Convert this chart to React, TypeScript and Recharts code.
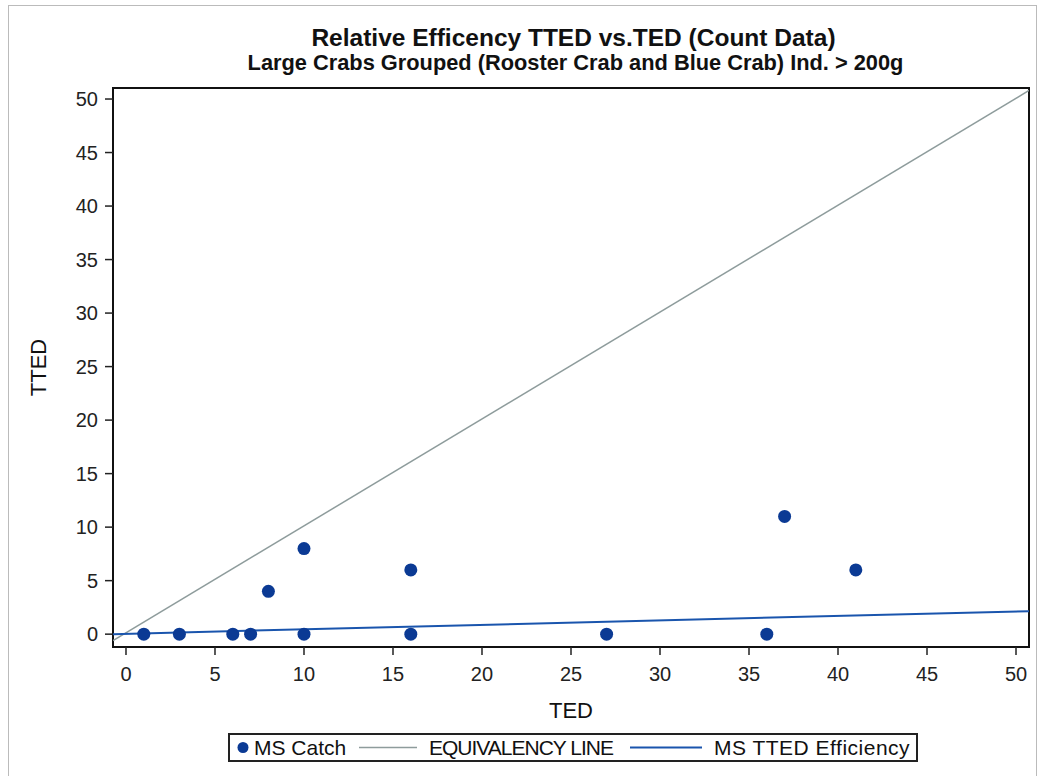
import React from "react";
import { ScatterChart, Scatter, XAxis, YAxis, ReferenceArea } from "recharts";

// MS catch observations (TED count vs TTED count)
const tedCounts = [1, 3, 6, 7, 8, 10, 10, 16, 16, 27, 36, 37, 41];
const ttedCounts = [0, 0, 0, 0, 4, 8, 0, 6, 0, 0, 0, 11, 6];

// line end points
const equivX = [-0.73, 50.73];
const equivY = [-0.6, 50.8];
const effX = [-0.73, 50.73];
const effY = [0, 2.15];

const tickValues = [0, 5, 10, 15, 20, 25, 30, 35, 40, 45, 50];

const catchData = tedCounts.map((x, i) => ({ x, y: ttedCounts[i] }));
const equivData = equivX.map((x, i) => ({ x, y: equivY[i] }));
const effData = effX.map((x, i) => ({ x, y: effY[i] }));

const DOT = "#0b3a94";
const EFF = "#1a55ad";
const EQUIV = "#8e9c9c";
const FONT = "Liberation Sans, Arial, sans-serif";

const Dot = (props: any) => <circle cx={props.cx} cy={props.cy} r={6.5} fill={DOT} />;
const NoShape = () => <g />;

const tickStyle = { fontFamily: FONT, fontSize: 20, fill: "#222" };

const legendText: React.CSSProperties = { position: "absolute", top: 1, lineHeight: "23px", whiteSpace: "nowrap" };

const LegendBox = () => (
  <div
    style={{
      position: "absolute",
      left: 228,
      top: 733,
      width: 690,
      height: 29,
      border: "2px solid #222",
      boxSizing: "border-box",
      fontFamily: FONT,
      fontSize: 21,
      color: "#111",
    }}
  >
    <svg width={690} height={25} style={{ position: "absolute", left: 0, top: 0 }}>
      <circle cx={13} cy={12.5} r={5.5} fill={DOT} />
      <line x1={129} x2={187} y1={12.5} y2={12.5} stroke={EQUIV} strokeWidth={1.5} />
      <line x1={400} x2={472} y1={12.5} y2={12.5} stroke={EFF} strokeWidth={2} />
    </svg>
    <span style={{ ...legendText, left: 24 }}>MS Catch</span>
    <span style={{ ...legendText, left: 199, letterSpacing: -1 }}>EQUIVALENCY LINE</span>
    <span style={{ ...legendText, left: 484, letterSpacing: 0.5 }}>MS TTED Efficiency</span>
  </div>
);

export default function App() {
  return (
    <div style={{ position: "absolute", left: 0, top: 0, width: 1039, height: 776, background: "#fff", overflow: "hidden" }}>
      <div
        style={{
          position: "absolute",
          left: 8,
          top: 5,
          width: 1029,
          height: 780,
          border: "1px solid #bbb",
          boxSizing: "border-box",
        }}
      />
      <div
        style={{
          position: "absolute",
          left: 0,
          width: 1039,
          top: 26,
          textAlign: "center",
          fontFamily: FONT,
          fontWeight: "bold",
          color: "#111",
          lineHeight: 1,
        }}
      >
        <div style={{ fontSize: 24.5, paddingLeft: 108 }}>Relative Efficency TTED vs.TED (Count Data)</div>
        <div style={{ fontSize: 21.8, marginTop: 1.5, paddingLeft: 112 }}>
          Large Crabs Grouped (Rooster Crab and Blue Crab) Ind. &gt; 200g
        </div>
      </div>
      <div style={{ position: "absolute", left: 0, top: 0 }}>
        <ScatterChart width={1039} height={776} margin={{ top: 88, right: 10, bottom: 54, left: 53 }}>
          <XAxis
            type="number"
            dataKey="x"
            domain={[-0.73, 50.73]}
            ticks={tickValues}
            allowDataOverflow
            axisLine={false}
            tickSize={8}
            tickMargin={12}
            tickLine={{ stroke: "#222", strokeWidth: 1.5 }}
            tick={tickStyle}
            height={75}
            label={{
              value: "TED",
              position: "insideBottom",
              offset: 4,
              style: { fontFamily: FONT, fontSize: 22, fill: "#111" },
            }}
          />
          <YAxis
            type="number"
            dataKey="y"
            domain={[-1.2, 51.03]}
            ticks={tickValues}
            allowDataOverflow
            axisLine={false}
            tickSize={8}
            tickMargin={7}
            tickLine={{ stroke: "#222", strokeWidth: 1.5 }}
            tick={tickStyle}
            width={60}
            label={{
              value: "TTED",
              angle: -90,
              position: "insideLeft",
              offset: -15,
              style: { fontFamily: FONT, fontSize: 22, fill: "#111", textAnchor: "middle" },
            }}
          />
          <ReferenceArea
            x1={-0.73}
            x2={50.73}
            y1={-1.2}
            y2={51.03}
            fill="none"
            fillOpacity={0}
            stroke="#111"
            strokeWidth={2}
            ifOverflow="visible"
          />
          <Scatter
            data={equivData}
            line={{ stroke: EQUIV, strokeWidth: 1.5 }}
            shape={NoShape}
            isAnimationActive={false}
          />
          <Scatter
            data={effData}
            line={{ stroke: EFF, strokeWidth: 2 }}
            shape={NoShape}
            isAnimationActive={false}
          />
          <Scatter data={catchData} shape={Dot} isAnimationActive={false} />
        </ScatterChart>
      </div>
      <LegendBox />
    </div>
  );
}
